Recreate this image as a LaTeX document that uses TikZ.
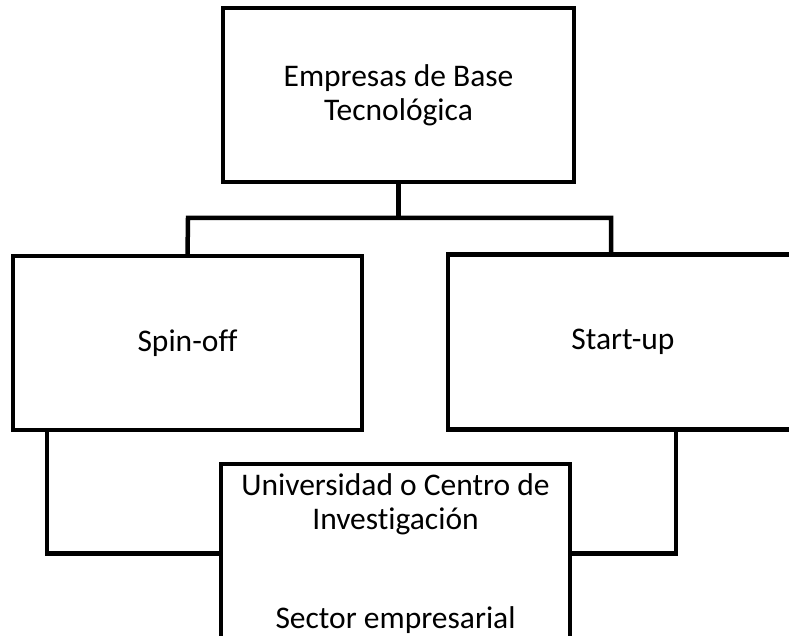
\documentclass[tikz,border=0pt]{standalone}
\usepackage{fontspec}
\setmainfont{Carlito}[Ligatures=NoCommon]
\usepackage{tikz}

\begin{document}
\begin{tikzpicture}[x=1pt,y=-1pt,line width=4.5pt,
  box/.style n args={2}{draw,rectangle,minimum width=#1pt,minimum height=#2pt,inner sep=0pt,outer sep=0pt,align=center,font=\fontsize{31.5}{34}\selectfont},
  conn/.style={draw,line width=4.5pt}]
\useasboundingbox (0,0) rectangle (789,636);
\clip (0,0) rectangle (789,636);
\node[box={351}{174}](ebt) at (398.5,95) {Empresas de Base\\Tecnológica};
\node[box={349}{174}](spin) at (187.5,343) {Spin-off};
\node[box={350}{174.5}](start) at (623,342) {Start-up};
\node[box={349}{179}](univ) at (395.5,553.5) {Universidad o Centro de\\Investigación\\[65pt]Sector empresarial};
\coordinate (busL) at (188,218);
\coordinate (busR) at (611,218);
\coordinate (kneeL) at (47,551);
\coordinate (kneeR) at (676,551);
\draw[conn] (ebt.south) -- (ebt.south |- busL);
\draw[conn] (spin.north) -- (busL) -- (busR) -- (busR |- start.north);
\draw[conn] (spin.south -| kneeL) |- (univ.west);
\draw[conn] (start.south -| kneeR) |- (univ.east);
\end{tikzpicture}
\end{document}
